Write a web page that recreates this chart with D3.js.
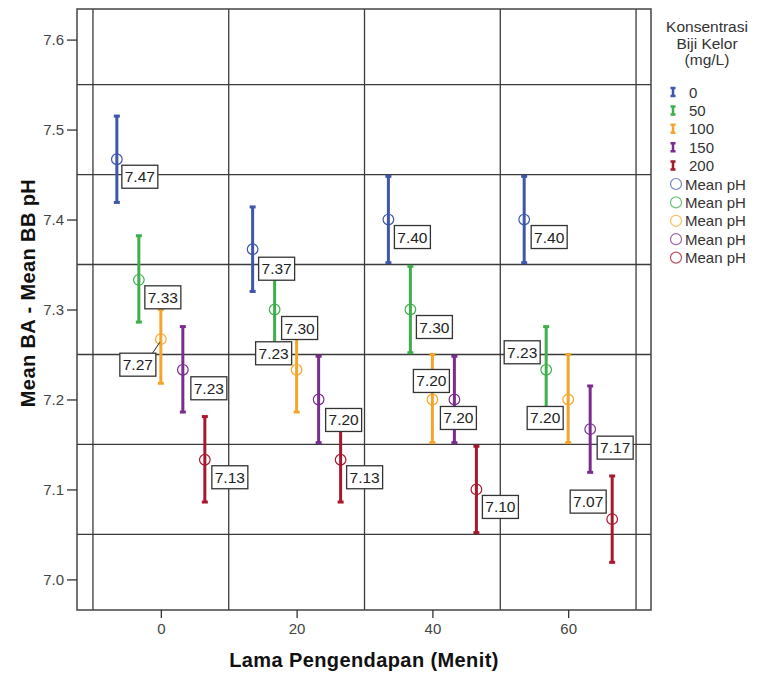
<!DOCTYPE html>
<html>
<head>
<meta charset="utf-8">
<script src="https://cdn.jsdelivr.net/npm/d3@7/dist/d3.min.js"></script>
<style>
    body { margin: 0; background: #fff; }
    text { font-family: Arial, "Liberation Sans", sans-serif; }
</style>
</head>
<body>
<div id="chart"></div>
<script>
// Error bar chart - pH per concentration

var times = [0, 20, 40, 60];
var xTicks = [0, 20, 40, 60];
var yTicks = [7.0, 7.1, 7.2, 7.3, 7.4, 7.5, 7.6];
var concentrations = ["0", "50", "100", "150", "200"];
var colors = ["#3e57ab", "#3daf4b", "#f5a52a", "#7b2d8f", "#a8182d"];

var meanPH = [
    [7.467, 7.367, 7.400, 7.400],
    [7.333, 7.300, 7.300, 7.233],
    [7.267, 7.233, 7.200, 7.200],
    [7.233, 7.200, 7.200, 7.167],
    [7.133, 7.133, 7.100, 7.067]
];
var upperPH = [
    [7.515, 7.414, 7.448, 7.448],
    [7.382, 7.348, 7.348, 7.281],
    [7.300, 7.281, 7.250, 7.250],
    [7.281, 7.248, 7.248, 7.215],
    [7.181, 7.181, 7.148, 7.115]
];
var lowerPH = [
    [7.419, 7.320, 7.352, 7.352],
    [7.286, 7.252, 7.252, 7.186],
    [7.218, 7.186, 7.152, 7.152],
    [7.186, 7.152, 7.152, 7.119],
    [7.086, 7.086, 7.052, 7.019]
];

// label box nudges (px from the point), third item = leader line
var labelNudge = [
    [[5, 6], [6, 8], [6, 6], [7, 6]],
    [[6, 6], [7, 7], [6, 6], [-42, -29]],
    [[-41, 14, true], [-41, -28], [-19, -30], [-41, 7]],
    [[8, 7], [7, 9], [-14, 7], [7, 7]],
    [[7, 6], [6, 6], [6, 6], [-42, -29]]
];

var width = 759,
    height = 675;
var plot = { left: 77, right: 651, top: 9, bottom: 610 };

var svg = d3.select('#chart').append("svg")
    .attr("width", width)
    .attr("height", height);

var x = d3.scaleLinear().domain([-12.35, 72.2]).range([plot.left, plot.right]);
var y = d3.scaleLinear().domain([6.966, 7.634]).range([plot.bottom, plot.top]);
var dodge = d3.scalePoint().domain(concentrations).range([-44, 44]);
var fmt = d3.format(".2f");

// grid lines sit halfway between the ticks
var xGrid = [-10].concat(xTicks.map(function (d) { return d + 10; }));
var yGrid = yTicks.slice(0, -1).map(function (d) { return d + 0.05; });

svg.selectAll(".vgrid")
    .data(xGrid)
    .enter().append("line")
    .attr("x1", function (d) { return x(d); })
    .attr("x2", function (d) { return x(d); })
    .attr("y1", plot.top)
    .attr("y2", plot.bottom)
    .attr("stroke", "#3a3a3a")
    .attr("stroke-width", 1.3);

svg.selectAll(".hgrid")
    .data(yGrid)
    .enter().append("line")
    .attr("x1", plot.left)
    .attr("x2", plot.right)
    .attr("y1", function (d) { return y(d); })
    .attr("y2", function (d) { return y(d); })
    .attr("stroke", "#3a3a3a")
    .attr("stroke-width", 1.3);

svg.append("rect")
    .attr("x", plot.left)
    .attr("y", plot.top)
    .attr("width", plot.right - plot.left)
    .attr("height", plot.bottom - plot.top)
    .attr("fill", "none")
    .attr("stroke", "#444")
    .attr("stroke-width", 1.5);

//  axes
var yAxis = d3.axisLeft(y).tickValues(yTicks).tickFormat(d3.format(".1f")).tickSize(10).tickSizeOuter(0);
var gy = svg.append("g")
    .attr("transform", "translate(" + plot.left + ",0)")
    .call(yAxis);
gy.select(".domain").remove();
gy.selectAll("line").attr("stroke", "#333").attr("stroke-width", 1.3);
gy.selectAll("text").attr("font-size", "15px").attr("fill", "#444").attr("x", -13);

var xAxis = d3.axisBottom(x).tickValues(xTicks).tickSize(8).tickSizeOuter(0);
var gx = svg.append("g")
    .attr("transform", "translate(0," + plot.bottom + ")")
    .call(xAxis);
gx.select(".domain").remove();
gx.selectAll("line").attr("stroke", "#333").attr("stroke-width", 1.3);
gx.selectAll("text").attr("font-size", "15px").attr("fill", "#444").attr("y", 13);

svg.append("text")
    .attr("x", (plot.left + plot.right) / 2)
    .attr("y", 667)
    .attr("text-anchor", "middle")
    .attr("font-size", "20px")
    .attr("font-weight", "bold")
    .attr("letter-spacing", "0.4px")
    .attr("fill", "#111")
    .text("Lama Pengendapan (Menit)");

svg.append("text")
    .attr("transform", "translate(35,293) rotate(-90)")
    .attr("text-anchor", "middle")
    .attr("font-size", "20px")
    .attr("font-weight", "bold")
    .attr("letter-spacing", "0.4px")
    .attr("fill", "#111")
    .text("Mean BA - Mean BB pH");

// flatten series into points
var points = [];
concentrations.forEach(function (c, i) {
    times.forEach(function (t, j) {
        points.push({
            conc: c, color: colors[i], time: t,
            mean: meanPH[i][j], lo: lowerPH[i][j], hi: upperPH[i][j],
            nudge: labelNudge[i][j]
        });
    });
});

function px(d) { return x(d.time) + dodge(d.conc); }

var bars = svg.selectAll(".bar")
    .data(points)
    .enter().append("g");

bars.append("line")
    .attr("x1", px).attr("x2", px)
    .attr("y1", function (d) { return y(d.lo); })
    .attr("y2", function (d) { return y(d.hi); })
    .attr("stroke", function (d) { return d.color; })
    .attr("stroke-width", 3);

bars.selectAll(".cap")
    .data(function (d) { return [{ p: d, v: d.lo }, { p: d, v: d.hi }]; })
    .enter().append("line")
    .attr("x1", function (d) { return px(d.p) - 3; })
    .attr("x2", function (d) { return px(d.p) + 3; })
    .attr("y1", function (d) { return y(d.v); })
    .attr("y2", function (d) { return y(d.v); })
    .attr("stroke", function (d) { return d.p.color; })
    .attr("stroke-width", 3);

bars.append("circle")
    .attr("cx", px)
    .attr("cy", function (d) { return y(d.mean); })
    .attr("r", 5.3)
    .attr("fill", "none")
    .attr("stroke", function (d) { return d.color; })
    .attr("stroke-width", 1.2);

// value labels
var bw = 36, bh = 23;
var labels = svg.selectAll(".lab")
    .data(points)
    .enter().append("g")
    .attr("transform", function (d) {
        return "translate(" + (px(d) + d.nudge[0]) + "," + (y(d.mean) + d.nudge[1]) + ")";
    });

labels.filter(function (d) { return d.nudge[2]; })
    .append("line")
    .attr("x1", function (d) { return -d.nudge[0] - 1; })
    .attr("y1", function (d) { return -d.nudge[1] + 3; })
    .attr("x2", bw - 4)
    .attr("y2", 1)
    .attr("stroke", "#222")
    .attr("stroke-width", 1);

labels.append("rect")
    .attr("width", bw)
    .attr("height", bh)
    .attr("fill", "#fff")
    .attr("stroke", "#333")
    .attr("stroke-width", 1.3);

labels.append("text")
    .attr("x", bw / 2)
    .attr("y", bh / 2 + 5.5)
    .attr("text-anchor", "middle")
    .attr("font-size", "15.5px")
    .attr("fill", "#222")
    .text(function (d) { return fmt(d.mean); });

// legend
var legend = svg.append("g");
legend.selectAll(".title")
    .data(["Konsentrasi", "Biji Kelor", "(mg/L)"])
    .enter().append("text")
    .attr("x", 707)
    .attr("y", function (d, i) { return 32 + i * 16.5; })
    .attr("text-anchor", "middle")
    .attr("font-size", "15.5px")
    .attr("fill", "#333")
    .text(function (d) { return d; });

var step = 18.4;
var li = legend.selectAll(".bar-item")
    .data(concentrations)
    .enter().append("g")
    .attr("transform", function (d, i) { return "translate(673," + (92 + i * step) + ")"; });

li.append("path")
    .attr("d", "M-2.5,-4H2.5M0,-4V4M-2.5,4H2.5")
    .attr("stroke", function (d, i) { return colors[i]; })
    .attr("stroke-width", 2.5)
    .attr("fill", "none");

li.append("text")
    .attr("x", 16)
    .attr("y", 5.5)
    .attr("font-size", "15px")
    .attr("fill", "#333")
    .text(function (d) { return d; });

var lc = legend.selectAll(".circ-item")
    .data(concentrations)
    .enter().append("g")
    .attr("transform", function (d, i) { return "translate(676," + (92 + (i + 5) * step) + ")"; });

lc.append("circle")
    .attr("r", 5.5)
    .attr("fill", "none")
    .attr("stroke", function (d, i) { return colors[i]; })
    .attr("stroke-opacity", 0.75)
    .attr("stroke-width", 1.2);

lc.append("text")
    .attr("x", 9)
    .attr("y", 5.5)
    .attr("font-size", "15px")
    .attr("fill", "#333")
    .text("Mean pH");
</script>
</body>
</html>
